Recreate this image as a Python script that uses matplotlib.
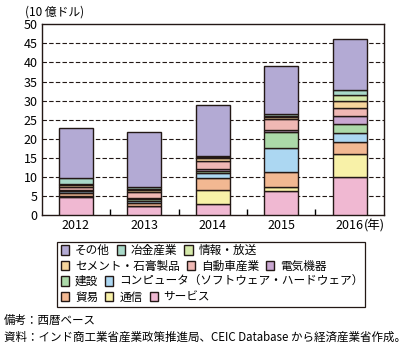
import matplotlib
matplotlib.use('Agg')
import matplotlib.pyplot as plt
import numpy as np
from matplotlib.patches import Rectangle

plt.rcParams['font.family'] = ['Noto Sans CJK JP', 'DejaVu Sans']

years = ['2012', '2013', '2014', '2015', '2016']
# stacked from bottom to top
sectors = ['サービス', '通信', '貿易', 'コンピュータ（ソフトウェア・ハードウェア）', '建設',
           '電気機器', '自動車産業', 'セメント・石膏製品', '情報・放送', '冶金産業', 'その他']
service = [4.7, 2.3, 2.8, 6.2, 10.1]
telecom = [0.2, 0.2, 3.9, 1.3, 5.8]
trade = [0.8, 0.8, 2.9, 3.7, 3.2]
computer = [0.5, 0.5, 1.5, 6.5, 2.3]
construction = [0.2, 0.4, 0.4, 4.2, 2.4]
electrical = [0.2, 0.3, 0.5, 0.5, 2.1]
auto = [0.9, 1.6, 2.3, 2.8, 2.1]
cement = [0.3, 0.4, 0.6, 0.4, 1.8]
info = [0.3, 0.4, 0.35, 0.4, 1.8]
metal = [1.5, 0.6, 0.35, 0.4, 1.3]
other = [13.1, 14.4, 13.2, 12.8, 13.3]
series = [service, telecom, trade, computer, construction, electrical,
          auto, cement, info, metal, other]
colors = ['#f0b8d2', '#f8f1a8', '#f2b892', '#acd7f2', '#acd9a9',
          '#c9a7d1', '#f0b8b4', '#f7d59c', '#d5e9a9', '#a9d9c9', '#b3aad4']

legend_rows = [['その他', '冶金産業', '情報・放送'],
               ['セメント・石膏製品', '自動車産業', '電気機器'],
               ['建設', 'コンピュータ（ソフトウェア・ハードウェア）'],
               ['貿易', '通信', 'サービス']]

fig = plt.figure(figsize=(4.08, 3.47), dpi=100)
ax = fig.add_axes([0.102, 0.380, 0.839, 0.550])

x = np.arange(len(years))
bottom = np.zeros(len(years))
handles = {}
for name, vals, c in zip(sectors, series, colors):
    b = ax.bar(x, vals, 0.5, bottom=bottom, color=c, edgecolor='#231815',
               linewidth=1.0, zorder=3)
    handles[name] = b
    bottom += np.array(vals)

ax.set_xlim(-0.5, 4.5)
ax.set_ylim(0, 50)
ax.set_yticks(np.arange(0, 51, 5))
ax.set_xticks(x)
ax.set_xticklabels(years)
ax.set_xticks(np.arange(0.5, 4, 1), minor=True)
ax.tick_params(axis='x', which='major', length=0, labelsize=9, pad=3)
ax.tick_params(axis='x', which='minor', direction='in', length=4, width=1)
ax.tick_params(axis='y', length=0, labelsize=9, pad=3)
for s in ax.spines.values():
    s.set_linewidth(1.0)
    s.set_color('#231815')
for yv in range(5, 50, 5):
    ax.axhline(yv, color='#231815', linestyle=(0, (4, 2)), linewidth=0.8, zorder=1)

fig.text(25 / 408, 1 - 12 / 347, '(10 億ドル)', fontsize=8.5, va='center', ha='left')
fig.text(0.893, 0.349, '(年)', fontsize=9, va='center', ha='left')

# legend: four rows inside one frame
row_y = [250.5, 266, 281.5, 297]
for names, ry in zip(legend_rows, row_y):
    fig.legend([handles[n] for n in names], names, loc='center left',
               bbox_to_anchor=(61 / 408, 1 - ry / 347), ncol=len(names), frameon=False,
               fontsize=8.4, handlelength=0.7, handleheight=0.9, handletextpad=0.5,
               columnspacing=0.6, borderpad=0, borderaxespad=0)
fig.patches.append(Rectangle((57 / 408, 1 - 307 / 347), 308 / 408, 65 / 347,
                             transform=fig.transFigure, fill=False,
                             edgecolor='#231815', linewidth=0.9))

fig.text(0.01, 1 - 320 / 347, '備考：西暦ベース', fontsize=8.3, va='center')
fig.text(0.01, 1 - 337 / 347, '資料：インド商工業省産業政策推進局、CEIC Database から経済産業省作成。',
         fontsize=8.3, va='center')

fig.savefig('out.png', dpi=100)
